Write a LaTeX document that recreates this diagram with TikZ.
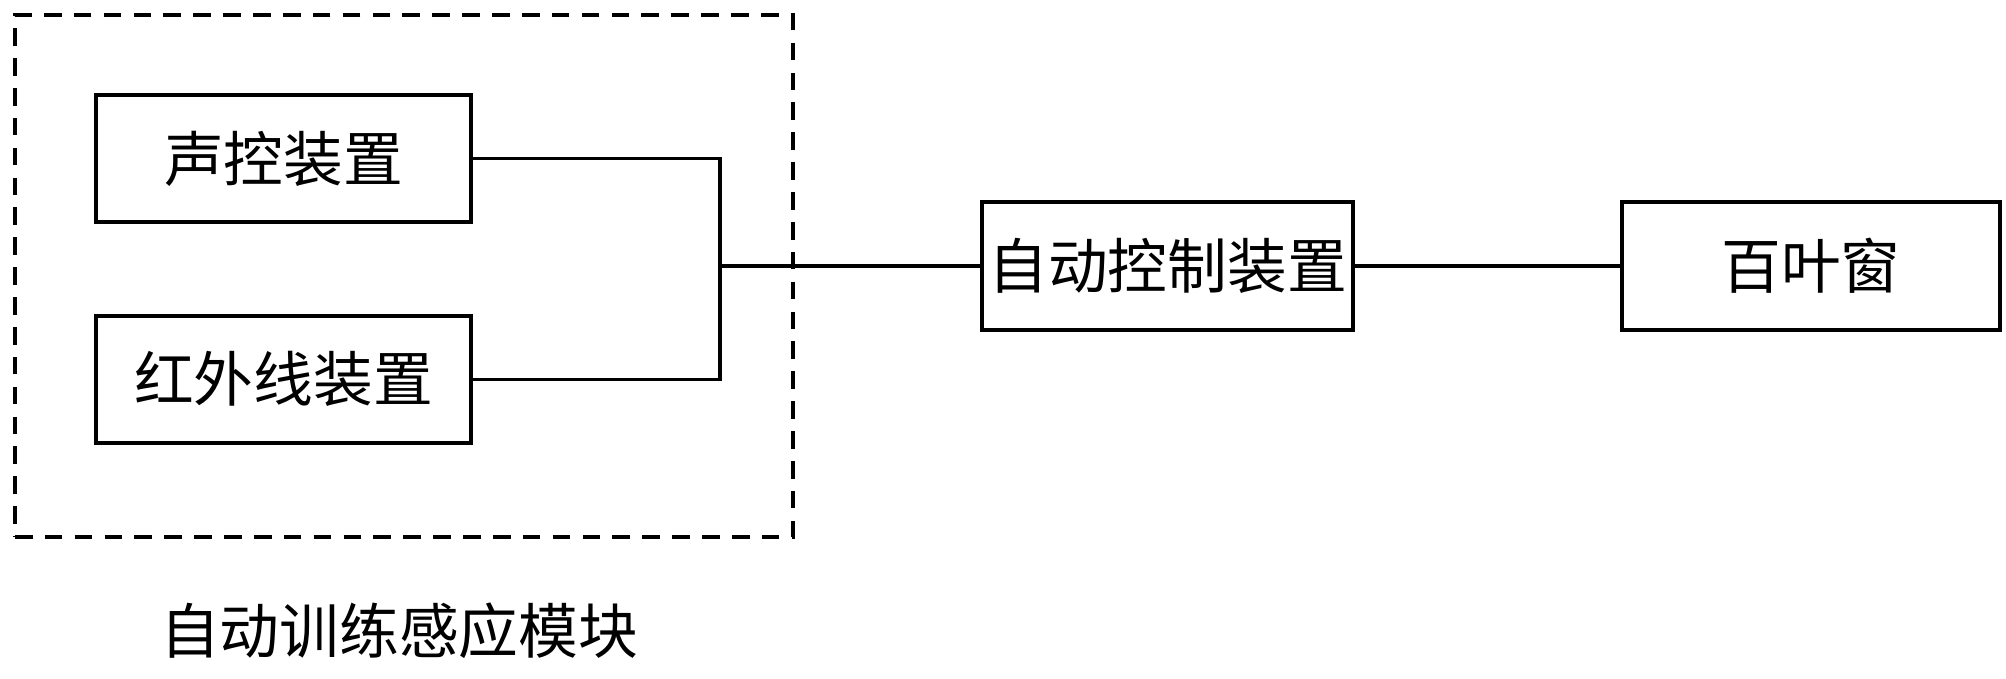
\documentclass[tikz,border=0pt]{standalone}
\usepackage{fontspec}
\setmainfont{Noto Sans CJK SC}
\usetikzlibrary{positioning}

\begin{document}
\begin{tikzpicture}[
  node distance=0.9cm and 2.65cm,
  font=\fontsize{17}{20}\selectfont,
  box/.style={draw, line width=1.1pt, align=center, minimum height=1.27cm,
              minimum width=3.75cm, inner sep=0pt},
  frame/.style={draw, dashed, line width=1pt, dash pattern=on 5pt off 3.5pt,
                minimum width=7.78cm, minimum height=5.22cm, inner sep=0pt},
  wire/.style={line width=1pt}
]
  \useasboundingbox (0,0) rectangle (20.06,-6.78);
  \node[frame] (module) at (4.04,-2.76) {};
  \node[box] (sound) at (2.835,-1.585) {声控装置};
  \node[box, below=of sound] (infrared) {红外线装置};
  \node[below=0.52cm of module, xshift=-0.05cm] (modlabel) {自动训练感应模块};
  \node[box, minimum width=3.71cm, minimum height=1.28cm] (control) at (11.675,-2.66) {自动控制装置};
  \node[box, minimum width=3.78cm, minimum height=1.28cm, right=of control] (blind) {百叶窗};
  \coordinate (junc) at (7.2,-2.66);

  \draw[wire] (sound.east) -| (junc);
  \draw[wire] (infrared.east) -| (junc);
  \draw[wire] (junc) -- (control.west);
  \draw[wire] (control) -- (blind);
\end{tikzpicture}
\end{document}
